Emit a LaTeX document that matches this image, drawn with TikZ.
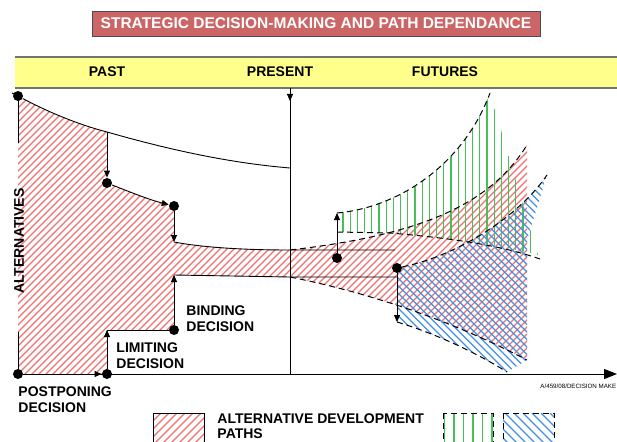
\documentclass[tikz,border=0pt]{standalone}
\usepackage{fontspec}
\setmainfont{Liberation Sans}
\usetikzlibrary{arrows.meta}

\definecolor{titlered}{RGB}{204,102,102}
\definecolor{bandyellow}{RGB}{255,255,140}
\definecolor{hatchred}{RGB}{240,112,112}
\definecolor{hatchgreen}{RGB}{72,190,90}
\definecolor{hatchblue}{RGB}{64,145,230}

\tikzset{
 lbl/.style={font=\fontsize{14}{16}\selectfont\bfseries, inner sep=0pt},
 dot/.style={circle, fill=black, inner sep=0pt, minimum size=10pt},
 bound/.style={black, line width=1pt, dash pattern=on 6pt off 4pt},
 redhatch/.style={hatchred, line width=1.1pt},
 greenhatch/.style={hatchgreen, line width=1.3pt},
 bluehatch/.style={hatchblue, line width=1.2pt}
}

\begin{document}
\begin{tikzpicture}[x=1pt, y=-1pt, line width=0.9pt, >={Triangle[length=7pt,width=6pt]}]
\useasboundingbox (0,0) rectangle (617,441);

\node[fill=titlered, draw=black!70, text=white, font=\fontsize{15.5}{18}\selectfont\bfseries,
 minimum width=448pt, minimum height=25pt, inner sep=0pt] (title) at (316,23.5)
 {STRATEGIC DECISION-MAKING AND PATH DEPENDANCE};

\fill[bandyellow] (15,57) rectangle (617,88);
\draw[black!55, line width=1.4pt] (15,57) -- (617,57);
\draw[black!55, line width=1.4pt] (15,88) -- (617,88);
\node[lbl] (past) at (107,72) {PAST};
\node[lbl] (present) at (280,72) {PRESENT};
\node[lbl] (futures) at (445,72) {FUTURES};

\begin{scope}
\clip (18,96) .. controls (50,113) and (80,125) .. (107,132) -- (107,183)
 .. controls (130,192) and (150,200) .. (174,206) -- (174,242)
 .. controls (200,247) and (240,250) .. (290,250)
 .. controls (420,235) and (490,205) .. (527,145) -- (527,360)
 .. controls (460,325) and (380,295) .. (290,277) -- (174,275) -- (174,330)
 -- (107,330) -- (107,374) -- (18,374) -- cycle;
\foreach \i in {-460,-453,...,620} \draw[redhatch] (\i,460) -- ++(460,-460);
\end{scope}

\begin{scope}
\clip (337,213) .. controls (395,208) and (462,168) .. (490,93) -- (538,255)
 .. controls (500,245) and (450,238) .. (390,233) -- (337,232) -- cycle;
\foreach \x in {343,350.2,...,540} \draw[greenhatch] (\x,80) -- (\x,270);
\end{scope}

\begin{scope}
\clip (397,268) .. controls (460,255) and (520,215) .. (547,175) -- (527,240)
 -- (527,360) -- (507,372) .. controls (480,355) and (440,335) .. (397,322) -- cycle;
\foreach \i in {0,7.5,...,560} \draw[bluehatch] (\i,0) -- ++(420,420);
\end{scope}

\coordinate (c1) at (107,132);
\coordinate (c2) at (174,242);
\coordinate (c3) at (174,275);
\coordinate (c4) at (107,330);
\coordinate (g0) at (337,213);
\coordinate (b0) at (397,322);
\coordinate (xend) at (617,374);

\node[dot] (p0) at (18,96) {};
\node[dot] (d1) at (107,183) {};
\node[dot] (d2) at (174,206) {};
\node[dot] (bind) at (174,330) {};
\node[dot] (lim) at (107,374) {};
\node[dot] (post) at (18,374) {};
\node[dot] (f1) at (337,258) {};
\node[dot] (f2) at (397,268) {};

\draw (12,93) -- (p0.center);
\draw (p0) .. controls (50,113) and (80,125) .. (c1) .. controls (170,150) and (230,163) .. (290,168);
\draw (p0) -- (18,143);
\draw (18,332) -- (post);
\draw[->] (c1) -- (d1);
\draw[->] (d1) .. controls (130,192) and (150,200) .. (d2);
\draw[->] (d2) -- (c2);
\draw (c2) .. controls (200,247) and (240,250) .. (290,250) -- (395,250);
\draw (c3) -- (290,277) -- (397,277);
\draw[->] (bind) -- (c3);
\draw (c4) -- (bind);
\draw[->] (lim) -- (c4);
\draw (290,88) -- (290,374);
\draw[->] (290,88) -- (290,101);
\draw[line width=1pt, -{Triangle[length=13pt,width=10pt]}] (post) -- (xend);
\draw[->] (post) -- (lim);
\draw[->] (f1) -- (g0);
\draw[->] (f2) -- (b0);

\draw[bound] (290,250) .. controls (420,235) and (490,205) .. (527,145);
\draw[bound] (290,277) .. controls (380,295) and (460,325) .. (527,360);
\draw[bound] (g0) .. controls (395,208) and (462,168) .. (490,93);
\draw[bound] (337,232) -- (390,233) .. controls (450,238) and (500,245) .. (540,259);
\draw[bound] (f2) .. controls (460,255) and (520,215) .. (547,175);
\draw[bound] (b0) .. controls (440,335) and (480,355) .. (507,372);

\node[lbl, rotate=90] (altlbl) at (19,241) {ALTERNATIVES};
\node[lbl, anchor=west, align=left] (postlbl) at (18,399.5) {POSTPONING\\DECISION};
\node[lbl, anchor=west, align=left] (limlbl) at (116,356) {LIMITING\\DECISION};
\node[lbl, anchor=west, align=left] (bindlbl) at (186,319) {BINDING\\DECISION};
\node[anchor=west, font=\fontsize{6.2}{7}\selectfont, inner sep=0pt] (ref) at (540,386) {A/459/08/DECISION MAKE};

\begin{scope}
\clip (153,413) rectangle (204,445);
\foreach \i in {-100,-92,...,210} \draw[redhatch] (\i,450) -- ++(40,-40);
\end{scope}
\draw[line width=0.8pt] (153,413) rectangle (204,445);
\node[lbl, anchor=west, align=left, font=\fontsize{14}{15.5}\selectfont\bfseries] (leglbl) at (217,426) {ALTERNATIVE DEVELOPMENT\\PATHS};

\foreach \x in {444.5,454,...,493} \draw[greenhatch] (\x,413) -- (\x,445);
\draw[bound, line width=0.8pt] (443,413) rectangle (493,445);
\begin{scope}
\clip (503,413) rectangle (554,445);
\foreach \i in {460,469,...,560} \draw[bluehatch] (\i,413) -- ++(40,40);
\end{scope}
\draw[bound, line width=0.8pt] (503,413) rectangle (554,445);
\end{tikzpicture}
\end{document}
